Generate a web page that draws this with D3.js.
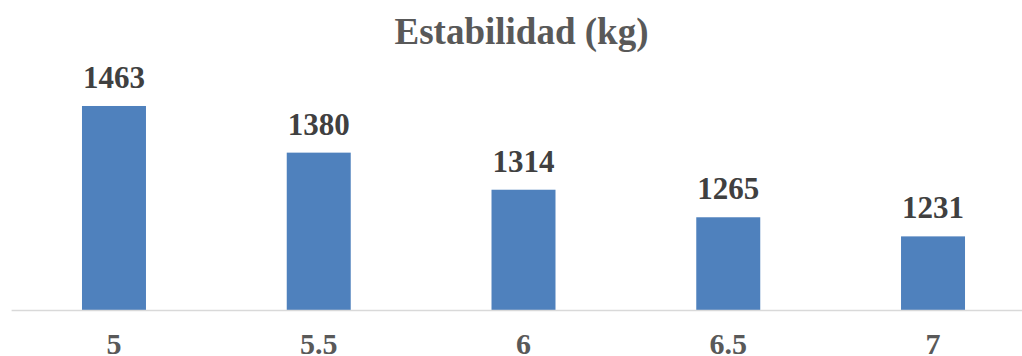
<!DOCTYPE html>
<html>
<head>
<meta charset="utf-8">
<script src="https://cdn.jsdelivr.net/npm/d3@7"></script>
<style>
  html, body { margin: 0; padding: 0; background: #fff; }
  svg { display: block; }
  text { font-family: "Liberation Serif", "Times New Roman", serif; font-weight: bold; }
</style>
</head>
<body>
<svg id="chart" width="1022" height="356"></svg>
<script>
// Stability (kg) by asphalt content
const categories = ["5", "5.5", "6", "6.5", "7"];
const stability = [1463, 1380, 1314, 1265, 1231];
const yDomain = [1100, 1500];
const chartTitle = "Estabilidad (kg)";

const svg = d3.select("#chart");
const plot = { left: 11.6, right: 1035.4, top: 85.2, bottom: 310 };

const x = d3.scaleBand()
  .domain(categories)
  .range([plot.left, plot.right])
  .paddingInner(0.6875)
  .paddingOuter(0.34375);

const y = d3.scaleLinear()
  .domain(yDomain)
  .range([plot.bottom, plot.top]);

// title
svg.append("text")
  .attr("x", 521.5)
  .attr("y", 44)
  .attr("text-anchor", "middle")
  .attr("font-size", 37)
  .attr("fill", "#595959")
  .text(chartTitle);

// bars
svg.append("g").selectAll("rect")
  .data(stability)
  .join("rect")
  .attr("x", (d, i) => x(categories[i]))
  .attr("width", x.bandwidth())
  .attr("y", d => y(d))
  .attr("height", d => y(yDomain[0]) - y(d))
  .attr("fill", "#4F81BD");

// value labels
svg.append("g").selectAll("text")
  .data(stability)
  .join("text")
  .attr("x", (d, i) => x(categories[i]) + x.bandwidth() / 2)
  .attr("y", d => y(d) - 18)
  .attr("text-anchor", "middle")
  .attr("font-size", 31)
  .attr("fill", "#404040")
  .text(d => d);

// category axis
const axis = svg.append("g")
  .attr("transform", `translate(0,${plot.bottom})`)
  .call(d3.axisBottom(x).tickSize(0).tickPadding(0));
axis.select(".domain")
  .attr("stroke", "#d9d9d9")
  .attr("stroke-width", 1.5)
  .attr("d", `M${plot.left},0.5H1022`);
axis.selectAll(".tick text")
  .attr("dy", null)
  .attr("y", 44)
  .attr("font-size", 30)
  .attr("fill", "#595959")
  .style("font-family", "'Liberation Serif', 'Times New Roman', serif")
  .style("font-weight", "bold");
</script>
</body>
</html>
